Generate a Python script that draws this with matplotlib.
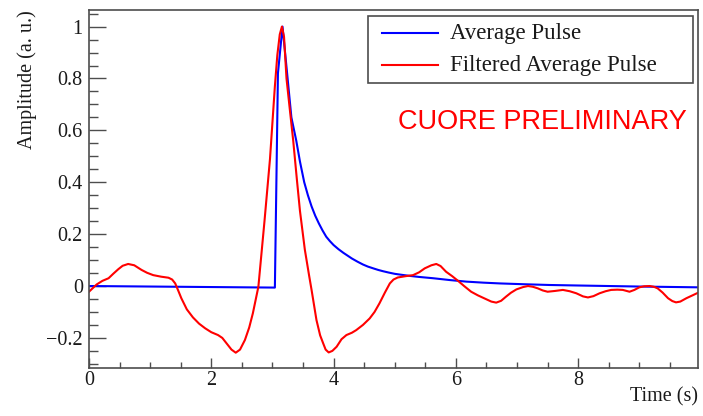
import matplotlib
matplotlib.use("Agg")
import matplotlib.pyplot as plt
from matplotlib.ticker import MultipleLocator, FuncFormatter
from matplotlib.patches import Rectangle
from matplotlib.lines import Line2D

# ---- data ----
avg_t = [0.0, 3.04, 3.09, 3.165, 3.24, 3.31, 3.39, 3.45, 3.52, 3.58, 3.64, 3.70,
         3.76, 3.82, 3.88, 3.94, 4.0, 4.08, 4.16, 4.23, 4.3, 4.39, 4.48, 4.56,
         4.65, 4.73, 4.81, 4.9, 5.0, 5.12, 5.25, 5.4, 5.63, 5.9, 6.17, 6.45,
         6.72, 7.1, 7.53, 8.0, 8.5, 9.0, 9.96]
avg_v = [0.0, -0.006, 0.82, 1.0, 0.82, 0.65, 0.56, 0.48, 0.40, 0.35, 0.307, 0.271,
         0.241, 0.214, 0.190, 0.173, 0.158, 0.142, 0.128, 0.117, 0.106, 0.094, 0.083, 0.075,
         0.068, 0.062, 0.057, 0.052, 0.047, 0.043, 0.039, 0.035, 0.030, 0.023, 0.017, 0.013,
         0.010, 0.007, 0.004, 0.002, 0.0, -0.002, -0.005]

filt_t = [0.0, 0.125, 0.22, 0.32, 0.40, 0.48, 0.55, 0.64, 0.74, 0.86, 0.95, 1.05,
          1.18, 1.30, 1.36, 1.41, 1.46, 1.51, 1.60, 1.70, 1.80, 1.90, 2.0, 2.11,
          2.18, 2.25, 2.33, 2.40, 2.47, 2.55, 2.62, 2.68, 2.77, 2.87, 2.96, 3.04,
          3.08, 3.12, 3.155, 3.19, 3.23, 3.28, 3.34, 3.40, 3.45, 3.53, 3.60, 3.64,
          3.72, 3.78, 3.83, 3.87, 3.92, 3.98, 4.05, 4.13, 4.21, 4.30, 4.37, 4.48,
          4.59, 4.67, 4.75, 4.84, 4.92, 4.98, 5.05, 5.18, 5.30, 5.40, 5.49, 5.60,
          5.68, 5.75, 5.84, 5.94, 6.03, 6.14, 6.25, 6.36, 6.47, 6.58, 6.66, 6.74,
          6.82, 6.90, 6.99, 7.10, 7.18, 7.26, 7.34, 7.42, 7.50, 7.62, 7.75, 7.86,
          7.97, 8.08, 8.16, 8.25, 8.35, 8.45, 8.54, 8.64, 8.73, 8.84, 8.92, 9.00,
          9.08, 9.17, 9.24, 9.30, 9.38, 9.47, 9.54, 9.60, 9.67, 9.77, 9.87, 9.96]
filt_v = [-0.022, 0.006, 0.020, 0.030, 0.048, 0.065, 0.078, 0.085, 0.080, 0.062, 0.051, 0.042,
          0.036, 0.032, 0.025, 0.010, -0.018, -0.047, -0.090, -0.121, -0.145, -0.163, -0.178, -0.189,
          -0.200, -0.221, -0.245, -0.257, -0.245, -0.208, -0.160, -0.105, -0.003, 0.25, 0.49, 0.77,
          0.89, 0.97, 1.0, 0.96, 0.80, 0.69, 0.56, 0.41, 0.29, 0.14, 0.04, -0.015,
          -0.131, -0.190, -0.221, -0.245, -0.256, -0.250, -0.234, -0.205, -0.189, -0.180, -0.170, -0.150,
          -0.125, -0.100, -0.067, -0.025, 0.010, 0.025, 0.033, 0.038, 0.042, 0.053, 0.068, 0.080,
          0.085, 0.077, 0.055, 0.038, 0.021, -0.001, -0.022, -0.036, -0.048, -0.060, -0.064, -0.057,
          -0.041, -0.026, -0.013, -0.004, 0.000, -0.003, -0.009, -0.017, -0.022, -0.019, -0.015, -0.020,
          -0.028, -0.040, -0.044, -0.039, -0.028, -0.020, -0.015, -0.014, -0.015, -0.022, -0.015, -0.005,
          -0.001, 0.000, -0.003, -0.009, -0.025, -0.047, -0.058, -0.063, -0.060, -0.047, -0.036, -0.026]

series_labels = ["Average Pulse", "Filtered Average Pulse"]
series_colors = ["#0000ff", "#ff0000"]
x_label = "Time (s)"
y_label = "Amplitude (a. u.)"
watermark = "CUORE PRELIMINARY"

# ---- figure ----
W, H = 703, 416
fig = plt.figure(figsize=(W / 100, H / 100), dpi=100)
ax = fig.add_axes([89 / W, 1 - 368 / H, (698 - 89) / W, (368 - 10) / H])

serif = ["Liberation Serif", "DejaVu Serif"]
frame_col = "#4d4d4d"
text_col = "#1a1a1a"

ax.plot(avg_t, avg_v, color=series_colors[0], lw=1.5, solid_joinstyle="round")
ax.plot(filt_t, filt_v, color=series_colors[1], lw=1.5, solid_joinstyle="round")

ax.set_xlim(0, 9.96)
ax.set_ylim(-0.316, 1.064)

for s in ax.spines.values():
    s.set_color(frame_col)
    s.set_linewidth(1.2)

ax.xaxis.set_major_locator(MultipleLocator(2))
ax.xaxis.set_minor_locator(MultipleLocator(0.5))
ax.yaxis.set_major_locator(MultipleLocator(0.2))
ax.yaxis.set_minor_locator(MultipleLocator(0.05))


def fmt(v, pos):
    if abs(v) < 1e-9:
        return "0"
    s = ("%g" % round(v, 3))
    return s.replace("-", "\u2212")


ax.xaxis.set_major_formatter(FuncFormatter(fmt))
ax.yaxis.set_major_formatter(FuncFormatter(fmt))

ax.tick_params(axis="x", which="major", direction="in", length=7.5, width=1.0,
               color=frame_col, pad=2.0, labelsize=14.5, top=False)
ax.tick_params(axis="x", which="minor", direction="in", length=4, width=1.0,
               color=frame_col, top=False)
ax.tick_params(axis="y", which="major", direction="in", length=12.5, width=1.0,
               color=frame_col, pad=4.5, labelsize=14.5, right=False)
ax.tick_params(axis="y", which="minor", direction="in", length=6.2, width=1.0,
               color=frame_col, right=False)
for lab in ax.get_xticklabels() + ax.get_yticklabels():
    lab.set_family(serif)
    lab.set_color(text_col)

ax.set_xlabel(x_label, loc="right", family=serif, fontsize=14.5, color=text_col)
ax.xaxis.set_label_coords(1.0, -0.055)
ax.set_ylabel(y_label, loc="top", family=serif, fontsize=14.5, color=text_col)
ax.yaxis.set_label_coords(-0.085, 1.0)

# ---- legend box (fixed-size, ROOT style) ----
def fx(px):
    return px / W


def fy(py):
    return 1 - py / H


fig.patches.append(Rectangle((fx(368), fy(83)), fx(693) - fx(368), fy(16) - fy(83),
                             transform=fig.transFigure, facecolor="white",
                             edgecolor=frame_col, lw=1.2, zorder=5))
for i, (lab, col) in enumerate(zip(series_labels, series_colors)):
    yc = [33, 65][i]
    fig.lines.append(Line2D([fx(382), fx(438)], [fy(yc), fy(yc)], color=col, lw=1.5,
                            transform=fig.transFigure, zorder=6))
    fig.text(fx(450), fy(yc), lab, ha="left", va="center", family=serif, fontsize=16.5,
             color=text_col, zorder=6)

fig.text(fx(686.7), fy(129.3), watermark, color="#ff0000", ha="right",
         va="baseline", family=["Liberation Sans", "DejaVu Sans"], fontsize=19.5)

fig.savefig("out.png", dpi=100)
